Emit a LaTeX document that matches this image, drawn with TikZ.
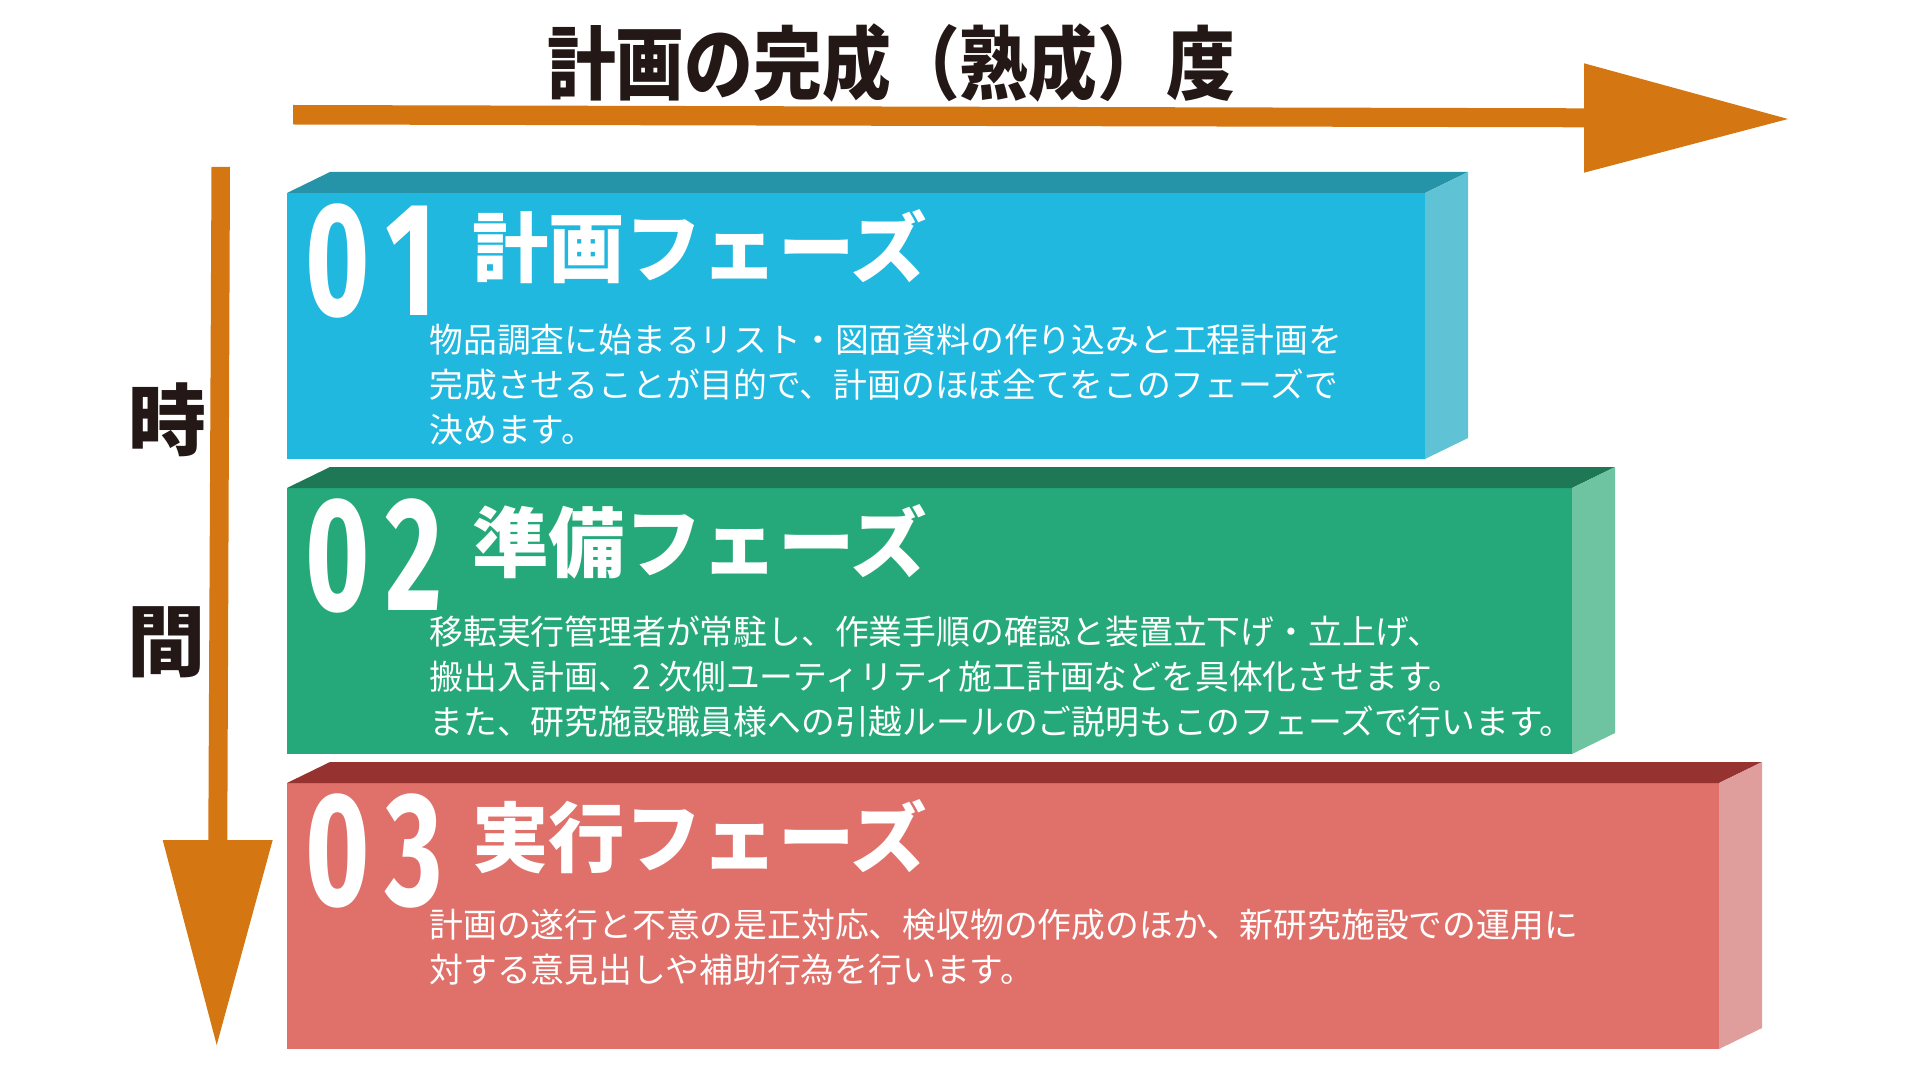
\documentclass[tikz,border=0pt]{standalone}
\usepackage{fontspec}
\setmainfont{Noto Sans CJK JP}
\newfontfamily\titlefont{Noto Sans CJK JP}[FakeStretch=0.86]
\newfontfamily\numfont{Fira Sans}[FakeStretch=0.68]
\definecolor{arrowc}{HTML}{D47712}
\definecolor{inkc}{HTML}{231815}
\definecolor{bluefront}{HTML}{21B8E0}
\definecolor{bluetop}{HTML}{2594A8}
\definecolor{blueside}{HTML}{5FC3D5}
\definecolor{greenfront}{HTML}{26A97A}
\definecolor{greentop}{HTML}{1E7855}
\definecolor{greenside}{HTML}{6EC3A0}
\definecolor{redfront}{HTML}{E0706A}
\definecolor{redtop}{HTML}{963230}
\definecolor{redside}{HTML}{DF9E9C}
\tikzset{
  phasenum/.style={text=white, inner sep=0, anchor=north west,
    font=\numfont\bfseries\fontsize{81}{81}\selectfont},
  phasehead/.style={text=white, inner sep=0, anchor=west,
    font=\bfseries\fontsize{38.2}{38.2}\selectfont},
  phasebody/.style={text=white, inner sep=0, anchor=north west, align=left,
    font=\fontsize{16.9}{22.5}\selectfont},
  axislabel/.style={text=inkc, inner sep=0, font=\bfseries\fontsize{39}{39}\selectfont},
}
\begin{document}
\begin{tikzpicture}[x=0.5pt,y=-0.5pt]
  \useasboundingbox (0,0) rectangle (1920,1080);
  % axes
  \node[axislabel, font=\titlefont\bfseries\fontsize{40}{40}\selectfont] (title) at (891,63) {計画の完成（熟成）度};
  \fill[arrowc] (293,105) -- (1584,108.3) -- (1584,63.3) -- (1788,119) -- (1584,172.7) -- (1584,127.3) -- (293,124.5) -- cycle;
  \fill[arrowc] (211.5,167) -- (230,167) -- (227.3,840) -- (272.7,840) -- (216.7,1045) -- (162.7,840) -- (208.3,840) -- cycle;
  \node[axislabel] (timeA) at (167,420) {時};
  \node[axislabel] (timeB) at (166,642) {間};
  % phase 01
  \fill[bluefront] (287,193) rectangle (1425,459);
  \fill[bluetop] (287,193) -- (330,172) -- (1468,172) -- (1425,193) -- cycle;
  \fill[blueside] (1425,193) -- (1468,172) -- (1468,438) -- (1425,459) -- cycle;
  \node[phasenum] (num1) at (305,203) {0\kern8pt1};
  \node[phasehead] (head1) at (472,247) {計画フェーズ};
  \node[phasebody] (body1) at (429,324) {物品調査に始まるリスト・図面資料の作り込みと工程計画を\\完成させることが目的で、計画のほぼ全てをこのフェーズで\\決めます。};
  % phase 02
  \fill[greenfront] (287,488) rectangle (1572,754);
  \fill[greentop] (287,488) -- (330,467) -- (1615,467) -- (1572,488) -- cycle;
  \fill[greenside] (1572,488) -- (1615,467) -- (1615,733) -- (1572,754) -- cycle;
  \node[phasenum] (num2) at (305,498) {0\kern8pt2};
  \node[phasehead] (head2) at (472,542) {準備フェーズ};
  \node[phasebody] (body2) at (429,615) {移転実行管理者が常駐し、作業手順の確認と装置立下げ・立上げ、\\搬出入計画、2 次側ユーティリティ施工計画などを具体化させます。\\また、研究施設職員様への引越ルールのご説明もこのフェーズで行います。};
  % phase 03
  \fill[redfront] (287,783) rectangle (1719,1049);
  \fill[redtop] (287,783) -- (330,762) -- (1762,762) -- (1719,783) -- cycle;
  \fill[redside] (1719,783) -- (1762,762) -- (1762,1028) -- (1719,1049) -- cycle;
  \node[phasenum] (num3) at (305,793) {0\kern8pt3};
  \node[phasehead] (head3) at (472,837) {実行フェーズ};
  \node[phasebody] (body3) at (429,909) {計画の遂行と不意の是正対応、検収物の作成のほか、新研究施設での運用に\\対する意見出しや補助行為を行います。};
\end{tikzpicture}
\end{document}
